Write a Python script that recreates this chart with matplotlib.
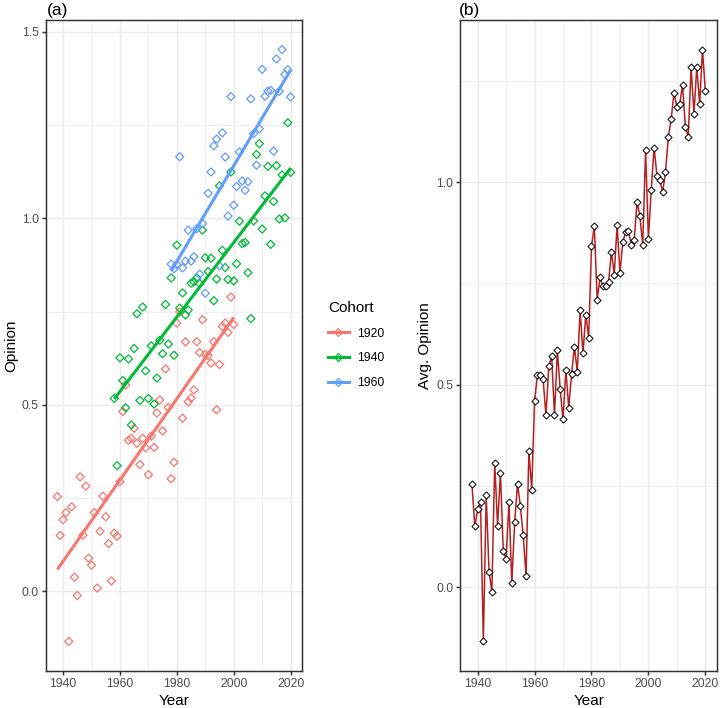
import numpy as np
import matplotlib
matplotlib.use("Agg")
import matplotlib.pyplot as plt
from matplotlib.lines import Line2D

plt.rcParams['font.family'] = ['Liberation Sans', 'DejaVu Sans']

# yearly average opinion (panel b)
years = np.arange(1938, 2021)
avg_opinion = [
    0.254, 0.150, 0.192, 0.211, -0.134, 0.227, 0.038, -0.011, 0.307, 0.151,
    0.282, 0.089, 0.070, 0.211, 0.009, 0.161, 0.255, 0.200, 0.128, 0.028,
    0.336, 0.240, 0.460, 0.523, 0.523, 0.513, 0.424, 0.545, 0.570, 0.424,
    0.585, 0.488, 0.414, 0.536, 0.443, 0.526, 0.593, 0.532, 0.683, 0.577,
    0.673, 0.615, 0.841, 0.891, 0.710, 0.765, 0.743, 0.743, 0.754, 0.828,
    0.771, 0.894, 0.776, 0.851, 0.877, 0.880, 0.845, 0.856, 0.951, 0.916,
    0.845, 1.080, 0.860, 0.981, 1.085, 1.016, 1.005, 0.975, 1.025, 1.110,
    1.156, 1.221, 1.185, 1.193, 1.239, 1.136, 1.112, 1.284, 1.168, 1.284,
    1.192, 1.327, 1.224,
]

# opinion by cohort (panel a)
years_1920 = np.arange(1938, 2001)
op_1920 = [
    0.254, 0.150, 0.192, 0.211, -0.134, 0.227, 0.038, -0.011, 0.307, 0.151,
    0.282, 0.089, 0.070, 0.211, 0.009, 0.161, 0.255, 0.200, 0.128, 0.028,
    0.156, 0.148, 0.294, 0.482, 0.553, 0.405, 0.410, 0.437, 0.397, 0.340,
    0.410, 0.385, 0.313, 0.416, 0.386, 0.478, 0.513, 0.430, 0.596, 0.493,
    0.302, 0.346, 0.719, 0.749, 0.464, 0.669, 0.508, 0.518, 0.540, 0.669,
    0.640, 0.728, 0.635, 0.632, 0.612, 0.669, 0.487, 0.608, 0.710, 0.719,
    0.694, 0.789, 0.715,
]
years_1940 = np.arange(1958, 2021)
op_1940 = [
    0.517, 0.337, 0.626, 0.565, 0.492, 0.623, 0.446, 0.651, 0.744, 0.512,
    0.762, 0.591, 0.517, 0.658, 0.502, 0.572, 0.673, 0.637, 0.769, 0.663,
    0.840, 0.633, 0.928, 0.759, 0.800, 0.741, 0.754, 0.826, 0.830, 0.840,
    0.825, 0.968, 0.894, 0.857, 0.893, 0.779, 0.837, 1.087, 0.914, 0.868,
    0.836, 1.124, 0.832, 0.878, 0.992, 0.932, 0.935, 0.854, 0.731, 0.993,
    1.171, 1.200, 0.971, 1.060, 1.139, 0.930, 1.045, 1.141, 0.998, 1.116,
    1.001, 1.256, 1.123,
]
years_1960 = np.arange(1978, 2021)
op_1960 = [
    0.877, 0.865, 0.876, 1.165, 0.867, 0.885, 0.968, 0.885, 0.897, 0.972,
    0.850, 0.986, 0.799, 1.067, 1.124, 1.194, 1.212, 0.872, 1.229, 1.164,
    1.006, 1.326, 1.035, 1.085, 1.178, 1.100, 1.075, 1.098, 1.320, 1.227,
    1.142, 1.240, 1.399, 1.327, 1.341, 1.343, 1.180, 1.427, 1.340, 1.452,
    1.385, 1.398, 1.325,
]

cohorts = ['1920', '1940', '1960']
cohort_years = [years_1920, years_1940, years_1960]
cohort_vals = [op_1920, op_1940, op_1960]
colors = ['#F8766D', '#00BA38', '#619CFF']

W, H = 720, 708
fig = plt.figure(figsize=(W / 100, H / 100), dpi=100)
ax_a = fig.add_axes([45.7 / W, 37 / H, 256.6 / W, 651 / H])
ax_b = fig.add_axes([460.3 / W, 37 / H, 256.7 / W, 651 / H])


def expand(lo, hi, f=0.05):
    d = (hi - lo) * f
    return lo - d, hi + d


def style(ax, yticks, yminor):
    ax.set_xticks([1940, 1960, 1980, 2000, 2020])
    ax.set_xticks([1950, 1970, 1990, 2010], minor=True)
    ax.set_yticks(yticks)
    ax.set_yticklabels([f'{t:.1f}' for t in yticks])
    ax.set_yticks(yminor, minor=True)
    ax.grid(which='major', color='#EBEBEB', lw=1.07, zorder=0)
    ax.grid(which='minor', color='#EBEBEB', lw=0.53, zorder=0)
    ax.set_axisbelow(True)
    for s in ax.spines.values():
        s.set_color('#333333')
        s.set_linewidth(1.07)
    ax.tick_params(which='major', length=2.75, width=1.07, color='#333333',
                   pad=2.2, labelsize=8.8, labelcolor='#4D4D4D')
    ax.tick_params(which='minor', length=0)
    ax.set_xlabel('Year', fontsize=11, labelpad=2.75)


# (a) scatter + linear fits
all_vals = op_1920 + op_1940 + op_1960
for yrs, vals, c in zip(cohort_years, cohort_vals, colors):
    ax_a.scatter(yrs, vals, marker='D', s=17, facecolors='none',
                 edgecolors=c, linewidths=0.9, zorder=2)
for yrs, vals, c in zip(cohort_years, cohort_vals, colors):
    k, b = np.polyfit(yrs, vals, 1)
    xs = np.array([yrs.min(), yrs.max()])
    ax_a.plot(xs, k * xs + b, color=c, lw=2.2, solid_capstyle='butt', zorder=3)
ax_a.set_xlim(expand(1938, 2020))
ax_a.set_ylim(expand(min(all_vals), max(all_vals)))
style(ax_a, [0.0, 0.5, 1.0, 1.5], [0.25, 0.75, 1.25])
ax_a.set_ylabel('Opinion', fontsize=11, labelpad=2.75)

handles = [Line2D([], [], color=c, lw=2.2, marker='D', markersize=4,
                  markerfacecolor='none', markeredgecolor=c, markeredgewidth=0.9)
           for c in colors]
leg = ax_a.legend(handles, cohorts, title='Cohort', loc='center left',
                  bbox_to_anchor=(328 / W, 1 - 345 / H), bbox_transform=fig.transFigure,
                  frameon=False, fontsize=8.8, title_fontsize=11, handlelength=1.7,
                  handletextpad=0.7, labelspacing=1.05, borderpad=0, borderaxespad=0,
                  alignment='left')

# (b) yearly average
ax_b.plot(years, avg_opinion, color='#B22222', lw=1.1, zorder=2)
ax_b.scatter(years, avg_opinion, marker='D', s=13, facecolors='white',
             edgecolors='black', linewidths=0.7, zorder=3)
ax_b.set_xlim(expand(1938, 2020))
ax_b.set_ylim(expand(min(avg_opinion), max(avg_opinion)))
style(ax_b, [0.0, 0.5, 1.0], [0.25, 0.75, 1.25])
ax_b.set_ylabel('Avg. Opinion', fontsize=11, labelpad=2.75)

fig.text(47 / W, 1 - 10 / H, '(a)', fontsize=12.5, ha='left', va='center')
fig.text(459 / W, 1 - 10 / H, '(b)', fontsize=12.5, ha='left', va='center')

fig.savefig('out.png', dpi=100)
